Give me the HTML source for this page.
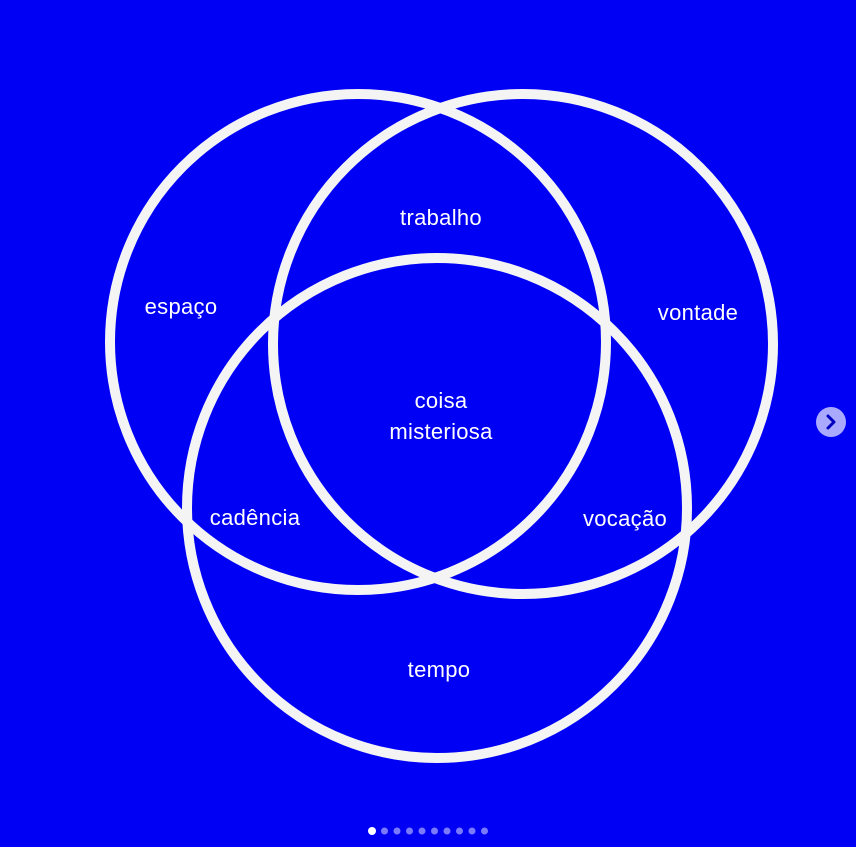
<!DOCTYPE html>
<html><head><meta charset="utf-8"><style>
html,body{margin:0;padding:0;background:#0000f5;}
svg{display:block}
text{font-family:"Liberation Sans",sans-serif;font-size:22px;letter-spacing:0.3px;fill:#fff;text-anchor:middle;font-weight:300}
</style></head><body>
<svg width="856" height="847" viewBox="0 0 856 847">
<rect width="856" height="847" fill="#0000f5"/>
<g fill="none" stroke="#f4f4f4" stroke-width="10">
<circle cx="358" cy="342" r="248"/>
<circle cx="523" cy="344" r="250"/>
<circle cx="437" cy="508" r="250"/>
</g>
<text x="181" y="314">espaço</text>
<text x="441" y="225">trabalho</text>
<text x="698" y="320">vontade</text>
<text x="441" y="408">coisa</text>
<text x="441" y="439">misteriosa</text>
<text x="255" y="525">cadência</text>
<text x="625" y="526">vocação</text>
<text x="439" y="677">tempo</text>
<g>
<circle cx="831" cy="422" r="15" fill="#a9a9ff"/>
<path d="M828 416 L834 422 L828 428" fill="none" stroke="#0000c0" stroke-width="3" stroke-linecap="round" stroke-linejoin="round"/>
</g>
<g>
<circle cx="372" cy="831" r="4" fill="#fff"/>
<circle cx="384.5" cy="831" r="3.5" fill="#7a7aff"/>
<circle cx="397" cy="831" r="3.5" fill="#7a7aff"/>
<circle cx="409.5" cy="831" r="3.5" fill="#7a7aff"/>
<circle cx="422" cy="831" r="3.5" fill="#7a7aff"/>
<circle cx="434.5" cy="831" r="3.5" fill="#7a7aff"/>
<circle cx="447" cy="831" r="3.5" fill="#7a7aff"/>
<circle cx="459.5" cy="831" r="3.5" fill="#7a7aff"/>
<circle cx="472" cy="831" r="3.5" fill="#7a7aff"/>
<circle cx="484.5" cy="831" r="3.5" fill="#7a7aff"/>
</g>
</svg>
</body></html>
